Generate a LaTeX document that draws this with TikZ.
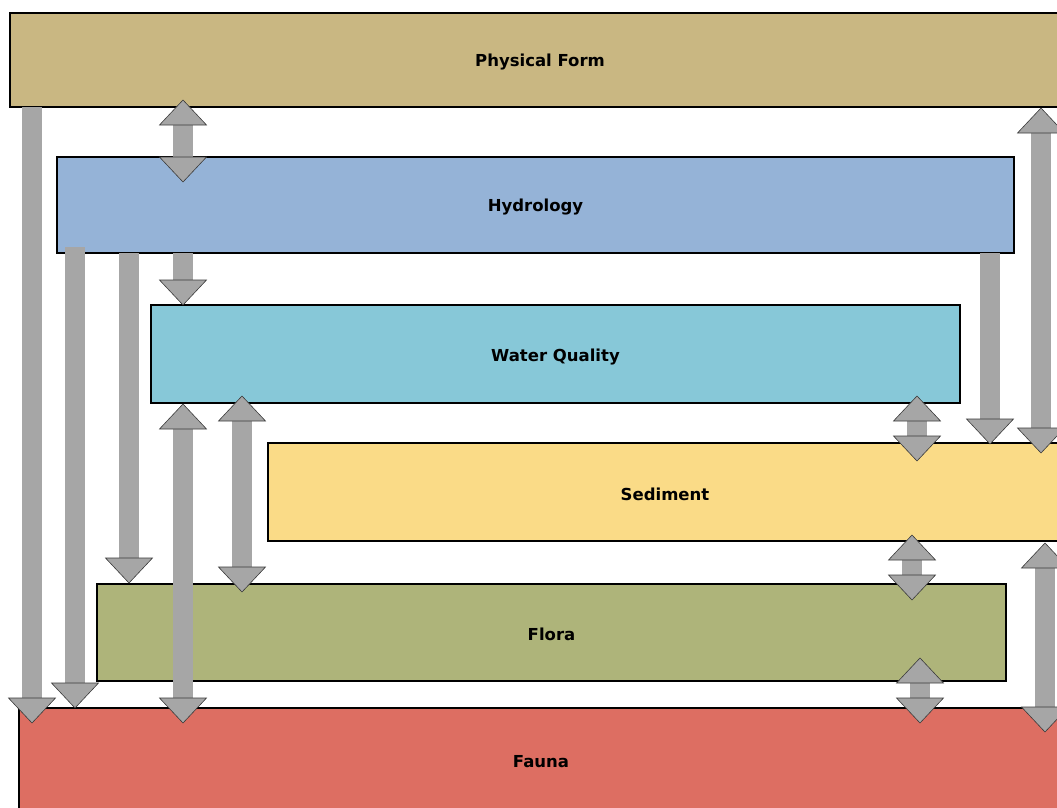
\documentclass[tikz,border=0pt]{standalone}
\usepackage{fontspec}
\setmainfont{DejaVu Sans}
\begin{document}
\begin{tikzpicture}[x=1pt,y=-1pt,
  box/.style={draw=black,line width=1.6pt},
  lbl/.style={font=\bfseries\fontsize{16.5}{18}\selectfont,inner sep=0pt},
  shaft/.style={fill=arrgray,draw=none},
  head/.style={fill=arrgray,draw=headline,line width=0.6pt,line join=miter}]
\definecolor{arrgray}{HTML}{A6A6A6}
\definecolor{headline}{HTML}{3A3A3A}
\definecolor{cPhys}{HTML}{C9B782}
\definecolor{cHyd}{HTML}{95B3D7}
\definecolor{cWQ}{HTML}{87C8D8}
\definecolor{cSed}{HTML}{FADB87}
\definecolor{cFlo}{HTML}{AEB47A}
\definecolor{cFau}{HTML}{DD6E62}
\useasboundingbox (0,0) rectangle (1057,808);
% boxes
\fill[cPhys] (10,13) rectangle (1057,107);
\draw[box] (1058,13) -- (10,13) -- (10,107) -- (1058,107);
\node[lbl] (phys) at (540,62) {Physical Form};
\filldraw[box,fill=cHyd] (57,157) rectangle (1014,253);
\node[lbl] (hyd) at (535.5,207) {Hydrology};
\filldraw[box,fill=cWQ] (151,305) rectangle (960,403);
\node[lbl] (wq) at (555.5,357) {Water Quality};
\fill[cSed] (268,443) rectangle (1057,541);
\draw[box] (1058,443) -- (268,443) -- (268,541) -- (1058,541);
\node[lbl] (sed) at (665,494) {Sediment};
\filldraw[box,fill=cFlo] (97,584) rectangle (1006,681);
\node[lbl] (flo) at (551.5,634) {Flora};
\fill[cFau] (19,708) rectangle (1057,808);
\draw[box] (1058,708) -- (19,708) -- (19,809);
\node[lbl] (fau) at (541,762) {Fauna};

% single down arrow: x, shaft start y, tip y
\newcommand\arrD[3]{%
  \fill[shaft] (#1-10,#2) rectangle (#1+10,#3-25);
  \filldraw[head] (#1-23.5,#3-25) -- (#1+23.5,#3-25) -- (#1,#3) -- cycle;}
% double arrow: x, top tip y, bottom tip y
\newcommand\arrUD[3]{%
  \fill[shaft] (#1-10,#2+25) rectangle (#1+10,#3-25);
  \filldraw[head] (#1-23.5,#2+25) -- (#1+23.5,#2+25) -- (#1,#2) -- cycle;
  \filldraw[head] (#1-23.5,#3-25) -- (#1+23.5,#3-25) -- (#1,#3) -- cycle;}

\arrUD{183}{100}{182}
\arrD{183}{253}{305}
\arrD{32}{107}{723}
\arrD{75}{247}{708}
\arrD{129}{253}{583}
\arrUD{183}{404}{723}
\arrUD{242}{396}{592}
\arrUD{917}{396}{461}
\arrD{990}{253}{444}
\arrUD{1041}{108}{453}
\arrUD{912}{535}{600}
\arrUD{920}{658}{723}
\arrUD{1045}{543}{732}
\end{tikzpicture}
\end{document}
